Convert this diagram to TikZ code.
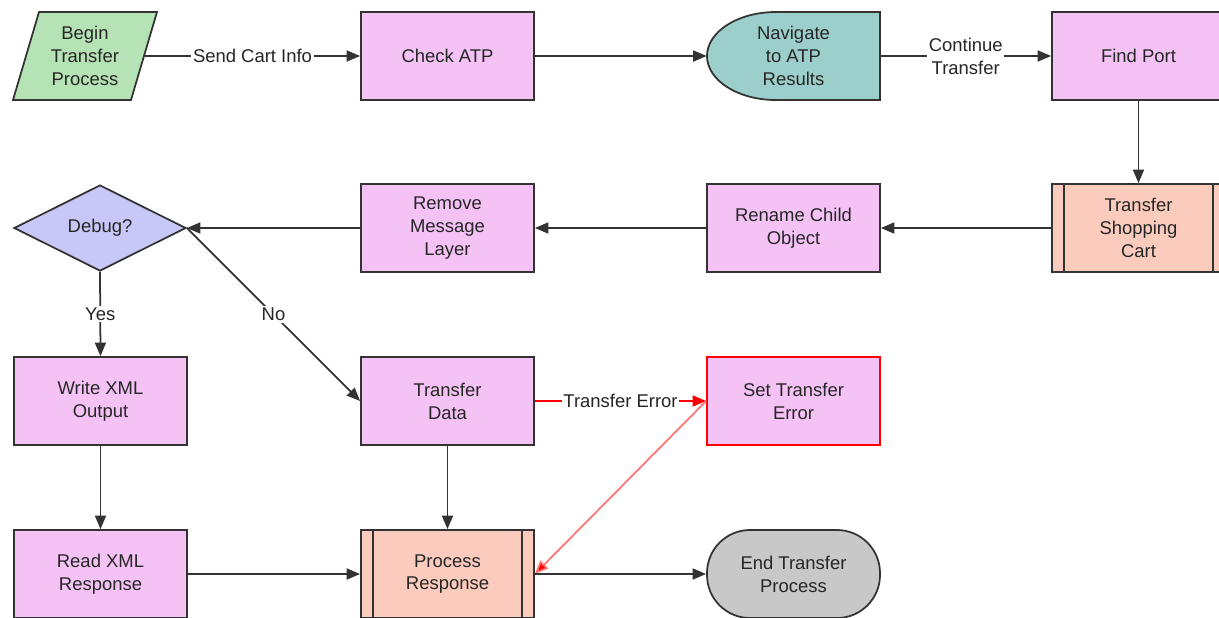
\documentclass[tikz,border=0pt]{standalone}
\usepackage{fontspec}
\setmainfont{Liberation Sans}
\usetikzlibrary{arrows.meta,shapes.geometric}
\definecolor{taskpink}{HTML}{F5C2F5}
\definecolor{startgreen}{HTML}{B5E3B5}
\definecolor{navteal}{HTML}{9CCFCB}
\definecolor{subsalmon}{HTML}{FBCBBE}
\definecolor{decblue}{HTML}{C8C8F8}
\definecolor{endgrey}{HTML}{C8C8C8}
\definecolor{lineclr}{HTML}{333333}
\tikzset{
  every node/.style={font=\fontsize{10.5}{13}\selectfont, align=center, text=black!85},
  task/.style={draw=lineclr, line width=1pt, fill=taskpink, minimum width=3.46cm, minimum height=1.76cm, inner sep=0pt},
  subproc/.style={task, fill=subsalmon, path picture={
      \draw[lineclr, line width=1pt] ([xshift=0.24cm]path picture bounding box.north west) -- ([xshift=0.24cm]path picture bounding box.south west);
      \draw[lineclr, line width=1pt] ([xshift=-0.24cm]path picture bounding box.north east) -- ([xshift=-0.24cm]path picture bounding box.south east);}},
  errtask/.style={task, draw=red},
  flow/.style={draw=lineclr, line width=1pt, -{Triangle[length=0.27cm,width=0.22cm]}},
  lbl/.style={fill=white, inner sep=1pt}
}
\begin{document}
\begin{tikzpicture}
		%%%%% START %%%%%
		\useasboundingbox (0,0) rectangle (24.38,-12.34);
		
		% row 1
		\node[trapezium, trapezium left angle=72, trapezium right angle=108, trapezium stretches=true, minimum width=2.9cm, minimum height=1.76cm, inner sep=0pt, draw=lineclr, line width=1pt, fill=startgreen] (begin) at (1.7, -1.12) {Begin\\Transfer\\Process};
		\node[task] (check) at (8.95, -1.12) {Check ATP};
		\draw[draw=lineclr, line width=1pt, fill=navteal] (17.6, -0.24) -- (15.52, -0.24) arc[start angle=90, end angle=270, x radius=1.38, y radius=0.88] -- (17.6, -2.0) -- cycle;
		\node[minimum width=3.46cm, minimum height=1.76cm, inner sep=0pt] (nav) at (15.87, -1.12) {Navigate\\to ATP\\Results};
		\node[task] (find) at (22.77, -1.12) {Find Port};
		
		% row 2
		\node[diamond, shape aspect=2, minimum width=3.44cm, minimum height=1.72cm, inner sep=0pt, draw=lineclr, line width=1pt, fill=decblue] (debug) at (2.0, -4.56) {Debug?};
		\node[task] (remove) at (8.95, -4.56) {Remove\\Message\\Layer};
		\node[task] (rename) at (15.87, -4.56) {Rename Child\\Object};
		\node[subproc] (cart) at (22.77, -4.56) {Transfer\\Shopping\\Cart};
		
		% row 3
		\node[task] (writexml) at (2.01, -8.02) {Write XML\\Output};
		\node[task] (tdata) at (8.95, -8.02) {Transfer\\Data};
		\node[errtask] (seterr) at (15.87, -8.02) {Set Transfer\\Error};
		
		% row 4
		\node[task] (readxml) at (2.01, -11.48) {Read XML\\Response};
		\node[subproc] (proc) at (8.95, -11.48) {Process\\Response};
		\node[draw=lineclr, line width=1pt, fill=endgrey, rounded corners=0.86cm, minimum width=3.46cm, minimum height=1.76cm, inner sep=0pt] (endp) at (15.87, -11.48) {End Transfer\\Process};
		
		% connectors
		\draw[flow] (begin.east) -- node[lbl] {Send Cart Info} (check.west);
		\draw[flow] (check.east) -- (nav.west);
		\draw[flow] (nav.east) -- node[lbl] {Continue\\Transfer} (find.west);
		\draw[flow] (find.south) -- (cart.north);
		\draw[flow] (cart.west) -- (rename.east);
		\draw[flow] (rename.west) -- (remove.east);
		\draw[flow] (remove.west) -- (debug.east);
		\draw[flow] (debug.south) -- node[lbl] {Yes} (writexml.north);
		\draw[flow] (debug.east) -- node[lbl] {No} (tdata.west);
		\draw[flow] (writexml.south) -- (readxml.north);
		\draw[flow] (readxml.east) -- (proc.west);
		\draw[flow] (tdata.south) -- (proc.north);
		\draw[flow, draw=red, -{Triangle[length=0.27cm,width=0.22cm,fill=red]}] (tdata.east) -- node[lbl] {Transfer Error} (seterr.west);
		\draw[flow, draw=red!55, -{Triangle[length=0.27cm,width=0.22cm,fill=red]}] (seterr.west) -- (proc.east);
		\draw[flow] (proc.east) -- (endp.west);
		
		%%%%% END %%%%%
	\end{tikzpicture}
\end{document}
